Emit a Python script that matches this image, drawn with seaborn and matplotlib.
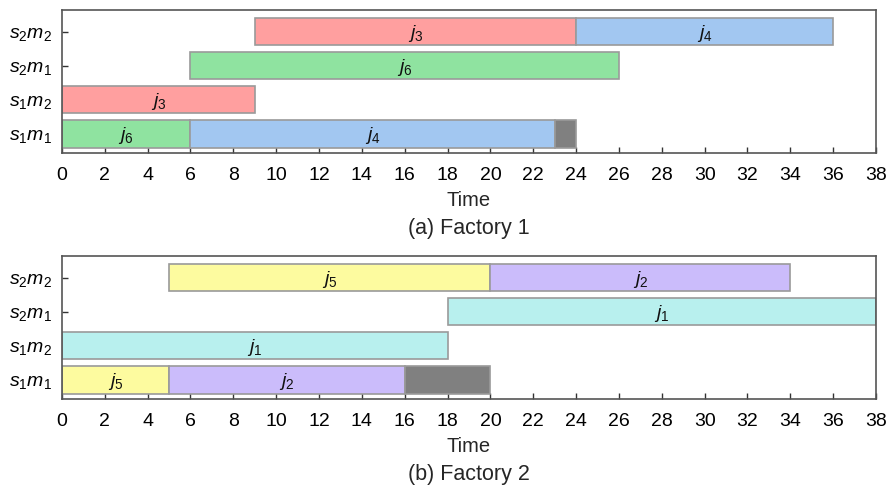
import matplotlib
matplotlib.use("Agg")
import matplotlib.pyplot as plt
import seaborn as sns

# Schedule for each factory: machine row, job id, start, end (job 0 = idle/blocked)
machines = ["$s_1m_1$", "$s_1m_2$", "$s_2m_1$", "$s_2m_2$"]

f1_rows = [0, 0, 0, 1, 2, 3, 3]
f1_jobs = [6, 4, 0, 3, 6, 3, 4]
f1_start = [0, 6, 23, 0, 6, 9, 24]
f1_end = [6, 23, 24, 9, 26, 24, 36]

f2_rows = [0, 0, 0, 1, 2, 3, 3]
f2_jobs = [5, 2, 0, 1, 1, 5, 2]
f2_start = [0, 5, 16, 0, 18, 5, 20]
f2_end = [5, 16, 20, 18, 38, 20, 34]

captions = ["(a) Factory 1", "(b) Factory 2"]
xticks = list(range(0, 39, 2))

job_colors = {
    0: "#808080",
    1: "#b8f0ee",
    2: "#cbbcfb",
    3: "#ff9f9f",
    4: "#a2c7f1",
    5: "#fdfb9f",
    6: "#8fe3a0",
}

sns.set_theme(style="ticks")
plt.rcParams["font.family"] = ["Liberation Sans", "DejaVu Sans"]
plt.rcParams["mathtext.fontset"] = "custom"
plt.rcParams["mathtext.rm"] = "Liberation Sans"
plt.rcParams["mathtext.it"] = "Liberation Sans:italic"

fig = plt.figure(figsize=(8.89, 4.88), dpi=100)
ax1 = fig.add_axes([0.0697, 0.6865, 0.9157, 0.2930])
ax2 = fig.add_axes([0.0697, 0.1824, 0.9157, 0.2930])

panels = [
    (ax1, f1_rows, f1_jobs, f1_start, f1_end, captions[0]),
    (ax2, f2_rows, f2_jobs, f2_start, f2_end, captions[1]),
]

for ax, rows, jobs, starts, ends, cap in panels:
    for r, j, s, e in zip(rows, jobs, starts, ends):
        ax.barh(r, e - s, left=s, height=0.8, color=job_colors[j],
                edgecolor="#9a9a9a", linewidth=1.2, zorder=2)
        if j:
            ax.text((s + e) / 2, r - 0.04, f"$j_{{{j}}}$", ha="center",
                    va="center", fontsize=14, color="#111111", zorder=3)
    ax.set_xlim(0, 38)
    ax.set_ylim(-0.56, 3.64)
    ax.set_xticks(xticks)
    ax.set_yticks(range(len(machines)))
    ax.set_yticklabels(machines)
    ax.tick_params(axis="both", direction="in", length=4, width=1,
                   colors="#333333", labelcolor="black", labelsize=14)
    ax.tick_params(axis="x", pad=10)
    ax.tick_params(axis="y", pad=7)
    for sp in ax.spines.values():
        sp.set_color("#555555")
        sp.set_linewidth(1.2)
    ax.set_xlabel("Time", fontsize=14.5, labelpad=5)
    ax.text(0.5, -0.525, cap, transform=ax.transAxes, ha="center",
            va="center", fontsize=15.5)

fig.savefig("out.png", dpi=100)
